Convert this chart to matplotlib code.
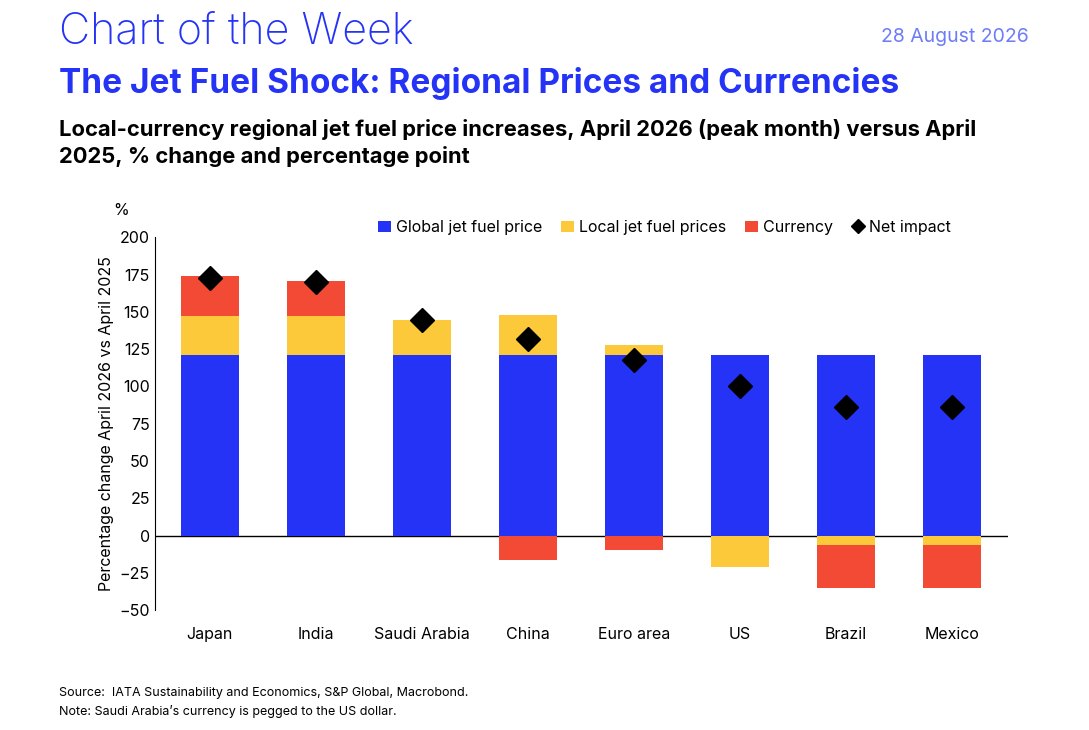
import matplotlib.pyplot as plt
import numpy as np

plt.rcParams['font.family'] = ['Inter', 'DejaVu Sans']

regions = ["Japan", "India", "Saudi Arabia", "China", "Euro area", "US", "Brazil", "Mexico"]
global_price = [121, 121, 121, 121, 121, 121, 121, 121]
local_price = [26, 26, 23.5, 27, 7, -21, -6.5, -6.5]
currency = [27, 23.5, 0, -16, -9.5, 0, -28.5, -28.5]
net_impact = [173, 170, 144.5, 132, 118, 100, 86, 86]

blue = "#2433f5"
yellow = "#fbc93a"
red = "#f24a35"

fig = plt.figure(figsize=(10.89, 7.30), dpi=100)
ax = fig.add_axes([0.142, 0.164, 0.784, 0.511])

x = np.arange(len(regions))
w = 0.55
g = np.array(global_price, float)
l = np.array(local_price, float)
c = np.array(currency, float)

b1 = ax.bar(x, g, w, color=blue, label="Global jet fuel price", zorder=2)
lb = np.where(l >= 0, g, 0)
b2 = ax.bar(x, l, w, bottom=lb, color=yellow, label="Local jet fuel prices", zorder=2)
cb = np.where(c >= 0, g + np.maximum(l, 0), np.minimum(l, 0))
b3 = ax.bar(x, c, w, bottom=cb, color=red, label="Currency", zorder=2)
p, = ax.plot(x, net_impact, "D", ms=12, color="black", label="Net impact", zorder=3)

ax.axhline(0, color="black", lw=1, zorder=1)
ax.set_ylim(-50, 200)
ax.set_yticks(range(-50, 201, 25))
ax.set_xlim(-0.52, 7.53)
ax.set_xticks(x)
ax.set_xticklabels(regions)
for s in ["top", "right", "bottom"]:
    ax.spines[s].set_visible(False)
ax.spines["left"].set_color("black")
ax.tick_params(axis="x", length=0, pad=12, labelsize=11.5)
ax.tick_params(axis="y", length=0, labelsize=11.5)
ax.set_ylabel("Percentage change April 2026 vs April 2025", fontsize=11.5)
ax.text(-0.03, 1.06, "%", transform=ax.transAxes, fontsize=11.5, ha="right")

ax.legend([b1, b2, b3, p], ["Global jet fuel price", "Local jet fuel prices", "Currency", "Net impact"],
          loc="upper left", bbox_to_anchor=(0.245, 1.085), ncol=4, frameon=False,
          fontsize=11.5, handlelength=0.8, handletextpad=0.3, columnspacing=1.2,
          markerscale=0.6)

fig.text(0.054, 0.94, "Chart of the Week", fontsize=31, color=blue, fontweight="light")
fig.text(0.945, 0.942, "28 August 2026", fontsize=14, color="#6d7cf7", ha="right")
fig.text(0.054, 0.872, "The Jet Fuel Shock: Regional Prices and Currencies", fontsize=24,
         color=blue, fontweight="bold")
fig.text(0.054, 0.777, "Local-currency regional jet fuel price increases, April 2026 (peak month) versus April\n"
         "2025, % change and percentage point", fontsize=15.8, fontweight="bold", linespacing=1.35)
fig.text(0.054, 0.047, "Source:  IATA Sustainability and Economics, S&P Global, Macrobond.", fontsize=9)
fig.text(0.054, 0.02, "Note: Saudi Arabia\u2019s currency is pegged to the US dollar.", fontsize=9)

fig.savefig("out.png", dpi=100)
